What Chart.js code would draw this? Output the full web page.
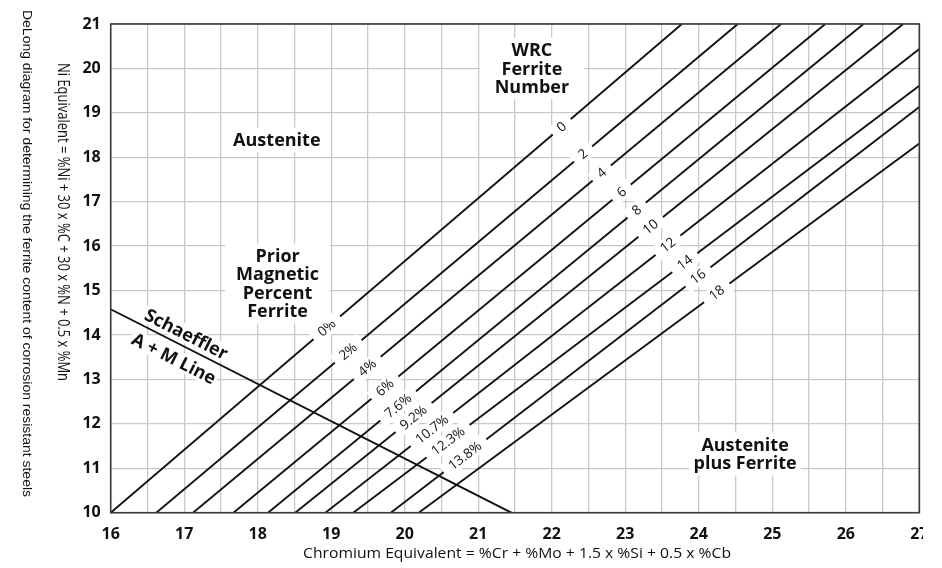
<!DOCTYPE html>
<html>
<head>
<meta charset="utf-8">
<script src="https://cdn.jsdelivr.net/npm/chart.js@4.4.1/dist/chart.umd.min.js"></script>
<style>
html,body{margin:0;padding:0;background:#fff;}
#wrap{width:923px;height:568px;overflow:hidden;position:relative;background:#fff;}
canvas{display:block;}
</style>
</head>
<body>
<div id="wrap"><canvas id="c" width="942" height="568"></canvas></div>
<script>
// ---- data ----
const xTickValues = [16,17,18,19,20,21,22,23,24,25,26,27];
const yTickValues = [10,11,12,13,14,15,16,17,18,19,20,21];
const fnLabels  = ['0','2','4','6','8','10','12','14','16','18'];
const pctLabels = ['0%','2%','4%','6%','7.6%','9.2%','10.7%','12.3%','13.8%'];
// iso-ferrite lines (start at Ni eq 10, end at top or right edge)
const lineStartX = [16.00,16.62,17.12,17.67,18.14,18.51,18.92,19.30,19.81,20.19];
const lineStartY = [10,10,10,10,10,10,10,10,10,10];
const lineEndX   = [23.77,24.53,25.12,25.72,26.24,26.78,27,27,27,27];
const lineEndY   = [21,21,21,21,21,21,20.44,19.61,19.13,18.31];
// Cr eq where the labels sit on each line
const fnLabelX  = [22.135,22.425,22.68,22.95,23.155,23.345,23.58,23.81,23.99,24.245];
const pctLabelX = [18.94,19.23,19.49,19.73,19.91,20.12,20.37,20.59,20.82];
// Schaeffler A + M line
const schaefflerX = [16, 21.45];
const schaefflerY = [14.58, 10];
const schaefflerText = ['Schaeffler','A + M Line'];
const schaefflerTextX = [17.03, 16.86];
const schaefflerTextY = [14.02, 13.47];
// region labels
const regionText = [['WRC','Ferrite','Number'],['Austenite'],['Prior','Magnetic','Percent','Ferrite'],['Austenite','plus Ferrite']];
const regionX = [21.73, 18.26, 18.27, 24.63];
const regionY = [20.0, 18.39, 15.16, 11.32];
const regionPadX = [15, 4, 11, 4];

const xTitle = 'Chromium Equivalent = %Cr + %Mo + 1.5 x %Si + 0.5 x %Cb';
const yTitle = 'Ni Equivalent = %Ni + 30 x %C + 30 x %N + 0.5 x %Mn';
const sideNote = 'DeLong diagram for determining the ferrite content of corrosion resistant steels';

// ---- chart ----
const datasets = fnLabels.map((_, i) => ({
  data: [{x: lineStartX[i], y: lineStartY[i]}, {x: lineEndX[i], y: lineEndY[i]}],
  showLine: true, borderColor: '#111', borderWidth: 1.9, pointRadius: 0, fill: false
}));
datasets.push({
  data: schaefflerX.map((x, i) => ({x, y: schaefflerY[i]})),
  showLine: true, borderColor: '#111', borderWidth: 1.9, pointRadius: 0, fill: false
});

function drawFitted(ctx, text, font, target) {
  ctx.font = font;
  const w = ctx.measureText(text).width;
  ctx.save();
  ctx.scale(target / w, 1);
  ctx.fillText(text, 0, 0);
  ctx.restore();
}

const annot = {
  id: 'annot',
  afterDraw(chart) {
    const ctx = chart.ctx, xs = chart.scales.x, ys = chart.scales.y, a = chart.chartArea;
    ctx.save();
    // plot frame
    ctx.strokeStyle = '#3a3a3a'; ctx.lineWidth = 1.6;
    ctx.strokeRect(a.left, a.top, a.right - a.left, a.bottom - a.top);

    // labels on the lines
    function lineLabel(i, xv, text) {
      const x0 = xs.getPixelForValue(lineStartX[i]), y0 = ys.getPixelForValue(lineStartY[i]);
      const x1 = xs.getPixelForValue(lineEndX[i]), y1 = ys.getPixelForValue(lineEndY[i]);
      const t = (xv - lineStartX[i]) / (lineEndX[i] - lineStartX[i]);
      const px = x0 + (x1 - x0) * t, py = y0 + (y1 - y0) * t;
      ctx.save();
      ctx.translate(px, py);
      ctx.rotate(Math.atan2(y1 - y0, x1 - x0));
      ctx.font = '13.5px "Open Sans"';
      const w = ctx.measureText(text).width;
      ctx.fillStyle = '#fff';
      ctx.fillRect(-w / 2 - 8, -8, w + 16, 16);
      ctx.fillStyle = '#111'; ctx.textAlign = 'center'; ctx.textBaseline = 'middle';
      ctx.fillText(text, 0, 0.5);
      ctx.restore();
    }
    fnLabels.forEach((t, i) => lineLabel(i, fnLabelX[i], t));
    pctLabels.forEach((t, i) => lineLabel(i, pctLabelX[i], t));

    // region labels
    const lh = 18.5;
    regionText.forEach((lines, k) => {
      const cx = xs.getPixelForValue(regionX[k]), cy = ys.getPixelForValue(regionY[k]);
      ctx.font = 'bold 18px "Open Sans"';
      const w = Math.max(...lines.map(l => ctx.measureText(l).width));
      const h = lines.length * lh;
      ctx.fillStyle = '#fff';
      ctx.fillRect(cx - w / 2 - regionPadX[k], cy - h / 2 - 3, w + 2 * regionPadX[k], h + 6);
      ctx.fillStyle = '#111'; ctx.textAlign = 'center'; ctx.textBaseline = 'middle';
      lines.forEach((l, j) => ctx.fillText(l, cx, cy - h / 2 + lh * (j + 0.5) + 1));
    });

    // Schaeffler labels
    const sx0 = xs.getPixelForValue(schaefflerX[0]), sy0 = ys.getPixelForValue(schaefflerY[0]);
    const sx1 = xs.getPixelForValue(schaefflerX[1]), sy1 = ys.getPixelForValue(schaefflerY[1]);
    const sang = Math.atan2(sy1 - sy0, sx1 - sx0);
    schaefflerText.forEach((t, k) => {
      ctx.save();
      ctx.translate(xs.getPixelForValue(schaefflerTextX[k]), ys.getPixelForValue(schaefflerTextY[k]));
      ctx.rotate(sang);
      ctx.font = 'bold 18px "Open Sans"';
      const w = ctx.measureText(t).width;
      ctx.fillStyle = '#fff';
      ctx.fillRect(-w / 2 - 2, -9, w + 4, 18);
      ctx.fillStyle = '#111'; ctx.textAlign = 'center'; ctx.textBaseline = 'middle';
      ctx.fillText(t, 0, 1);
      ctx.restore();
    });

    // axis titles
    ctx.fillStyle = '#111'; ctx.textAlign = 'center'; ctx.textBaseline = 'middle';
    ctx.save(); ctx.translate(517, 554);
    drawFitted(ctx, xTitle, '15px "Open Sans"', 428);
    ctx.restore();
    ctx.save(); ctx.translate(62, 222); ctx.rotate(Math.PI / 2);
    drawFitted(ctx, yTitle, '15.5px "Open Sans"', 318);
    ctx.restore();
    ctx.save(); ctx.translate(26.5, 253.5); ctx.rotate(Math.PI / 2);
    drawFitted(ctx, sideNote, '13px "Liberation Sans"', 487);
    ctx.restore();
    ctx.restore();
  }
};

new Chart(document.getElementById('c'), {
  type: 'scatter',
  data: { datasets },
  options: {
    responsive: false, animation: false, events: [],
    layout: { padding: { top: 24, right: 22.7, left: 0, bottom: 0 } },
    plugins: { legend: { display: false }, tooltip: { enabled: false } },
    scales: {
      x: {
        type: 'linear', min: 16, max: 27,
        grid: { color: '#c9c9c9', lineWidth: 1.3, drawTicks: false },
        border: { display: false },
        ticks: {
          stepSize: 0.5, autoSkip: false, maxRotation: 0, padding: 12,
          color: '#111', font: { family: 'Open Sans', weight: 'bold', size: 16 },
          callback: v => xTickValues.includes(v) ? String(v) : ''
        },
        afterFit: s => { s.height = 55.3; s.paddingLeft = 0; s.paddingRight = 0; }
      },
      y: {
        type: 'linear', min: 10, max: 21,
        grid: { color: '#c9c9c9', lineWidth: 1.3, drawTicks: false },
        border: { display: false },
        ticks: {
          stepSize: 1, autoSkip: false, padding: 10,
          color: '#111', font: { family: 'Open Sans', weight: 'bold', size: 16 },
          callback: v => yTickValues.includes(v) ? String(v) : ''
        },
        afterFit: s => { s.width = 110.7; }
      }
    }
  },
  plugins: [annot]
});
</script>
</body>
</html>
